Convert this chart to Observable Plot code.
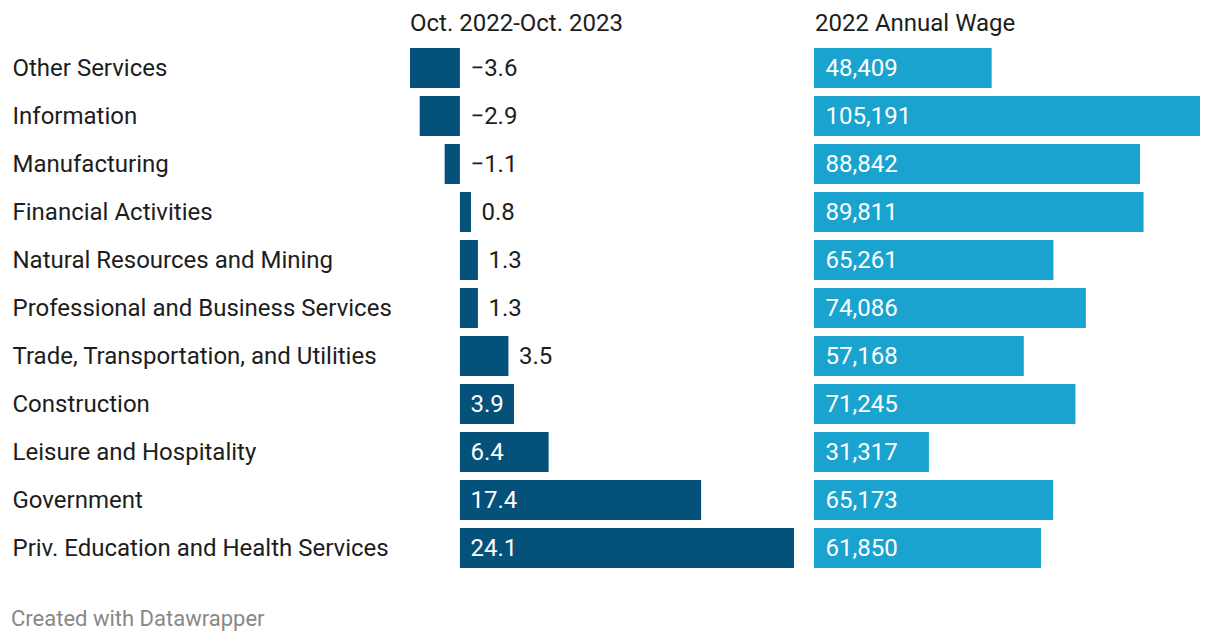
<!DOCTYPE html>
<html>
<head>
<meta charset="utf-8">
<script src="https://cdn.jsdelivr.net/npm/d3@7"></script>
<script src="https://cdn.jsdelivr.net/npm/@observablehq/plot@0.6"></script>
<style>
  html, body { margin: 0; padding: 0; background: #fff; }
  body { width: 1220px; height: 644px; position: relative; overflow: hidden; font-family: Roboto, sans-serif; }
  .hdr { position: absolute; top: 11px; font-size: 24px; line-height: 24px; color: #1d1d1d; white-space: nowrap; }
  .cap { position: absolute; left: 11px; top: 608px; font-size: 22px; line-height: 22px; color: #888; white-space: nowrap; }
  #a, #b { position: absolute; top: 0; }
  #a { left: 0; }
  #b { left: 800px; }
</style>
</head>
<body>
<div id="a"></div>
<div id="b"></div>
<div class="hdr" style="left:410px">Oct. 2022-Oct. 2023</div>
<div class="hdr" style="left:815px">2022 Annual Wage</div>
<div class="cap">Created with Datawrapper</div>
<script>
const industries = [
  "Other Services",
  "Information",
  "Manufacturing",
  "Financial Activities",
  "Natural Resources and Mining",
  "Professional and Business Services",
  "Trade, Transportation, and Utilities",
  "Construction",
  "Leisure and Hospitality",
  "Government",
  "Priv. Education and Health Services"
];
const change = [-3.6, -2.9, -1.1, 0.8, 1.3, 1.3, 3.5, 3.9, 6.4, 17.4, 24.1];
const wage = [48409, 105191, 88842, 89811, 65261, 74086, 57168, 71245, 31317, 65173, 61850];

const rows = industries.map((name, i) => ({name, change: change[i], wage: wage[i]}));
const dark = "#04527a";
const light = "#1ba3cf";
const textColor = "#1d1d1d";
const fmt1 = d3.format(".1f");
const fmtW = d3.format(",");

const yOpts = {domain: industries, padding: 1/6, round: false, axis: null};
const fontSize = 24;

const chartA = Plot.plot({
  width: 800,
  height: 644,
  marginTop: 40,
  marginBottom: 68,
  marginLeft: 410,
  marginRight: 6,
  x: {domain: [-3.6, 24.1], axis: null},
  y: yOpts,
  style: {fontFamily: "Roboto, sans-serif", fontSize: fontSize + "px", background: "transparent"},
  marks: [
    Plot.barX(rows, {x1: 0, x2: "change", y: "name", fill: dark}),
    Plot.text(rows, {y: "name", text: "name", frameAnchor: "left", textAnchor: "start", dx: -398, fill: textColor, fontSize}),
    // labels for negative values: right of zero
    Plot.text(rows.filter(d => d.change < 0), {x: 0, y: "name", text: d => fmt1(d.change), textAnchor: "start", dx: 10, fill: textColor, fontSize}),
    // small positive: right of bar end
    Plot.text(rows.filter(d => d.change >= 0 && d.change < 3.7), {x: "change", y: "name", text: d => fmt1(d.change), textAnchor: "start", dx: 10, fill: textColor, fontSize}),
    // large positive: inside
    Plot.text(rows.filter(d => d.change >= 3.7), {x: 0, y: "name", text: d => fmt1(d.change), textAnchor: "start", dx: 10, fill: "#fff", fontSize})
  ]
});
document.getElementById("a").appendChild(chartA);

const chartB = Plot.plot({
  width: 420,
  height: 644,
  marginTop: 40,
  marginBottom: 68,
  marginLeft: 14,
  marginRight: 20,
  x: {domain: [0, 105191], axis: null},
  y: yOpts,
  style: {fontFamily: "Roboto, sans-serif", fontSize: fontSize + "px", background: "transparent"},
  marks: [
    Plot.barX(rows, {x1: 0, x2: "wage", y: "name", fill: light}),
    Plot.text(rows, {x: 0, y: "name", text: d => fmtW(d.wage), textAnchor: "start", dx: 11, fill: "#fff", fontSize})
  ]
});
document.getElementById("b").appendChild(chartB);
</script>
</body>
</html>
